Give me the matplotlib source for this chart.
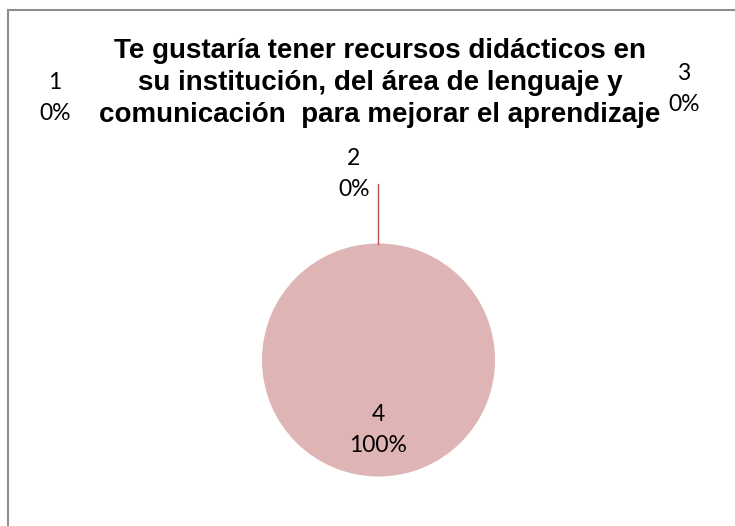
import numpy as np
import matplotlib.pyplot as plt
from matplotlib.lines import Line2D

# datos del gráfico
categorias = ['1', '2', '3', '4']
valores = [0, 0, 0, 100]
colores = ['#4F81BD', '#C0504D', '#9BBB59', '#DEB4B4']
titulo = ('Te gustaría tener recursos didácticos en\n'
          'su institución, del área de lenguaje y\n'
          'comunicación  para mejorar el aprendizaje')

W, H = 735, 526
fig = plt.figure(figsize=(W / 100, H / 100), dpi=100)
ax = fig.add_axes([0, 0, 1, 1])

# marco del gráfico (solo se ven borde izquierdo y superior)
fig.add_artist(Line2D([8 / W, 8 / W], [0, 1 - 10 / H], color='#8C8C8C', lw=1.5))
fig.add_artist(Line2D([8 / W, 1], [1 - 10 / H, 1 - 10 / H], color='#8C8C8C', lw=1.5))

cx, cy, r = 378.5, 360, 116.5
wedges, _ = ax.pie(valores, colors=colores, startangle=90, counterclock=False,
                   center=(cx, cy), radius=r, frame=True)
ax.set_xlim(0, W)
ax.set_ylim(H, 0)
ax.set_aspect('equal')
ax.axis('off')

total = sum(valores)
pct = [v / total * 100 for v in valores]

lbl_font = {'family': ['Lato', 'DejaVu Sans'], 'fontsize': 16.5, 'color': '#000000',
            'ha': 'center', 'va': 'center', 'linespacing': 1.6}
ax.text(55, 98, f'{categorias[0]}\n{pct[0]:.0f}%', **lbl_font)
ax.text(684, 89, f'{categorias[2]}\n{pct[2]:.0f}%', **lbl_font)
ax.text(354, 174, f'{categorias[1]}\n{pct[1]:.0f}%', **lbl_font)
ax.text(cx, 430, f'{categorias[3]}\n{pct[3]:.0f}%', **lbl_font)

# línea guía hacia la porción 2
ax.plot([cx, cx], [cy - r, 184], color='#C0504D', lw=1)

ax.text(380, 83, titulo, ha='center', va='center', fontsize=20, fontweight='bold',
        family=['Liberation Sans', 'DejaVu Sans'], linespacing=1.3)

fig.savefig('out.png', dpi=100)
